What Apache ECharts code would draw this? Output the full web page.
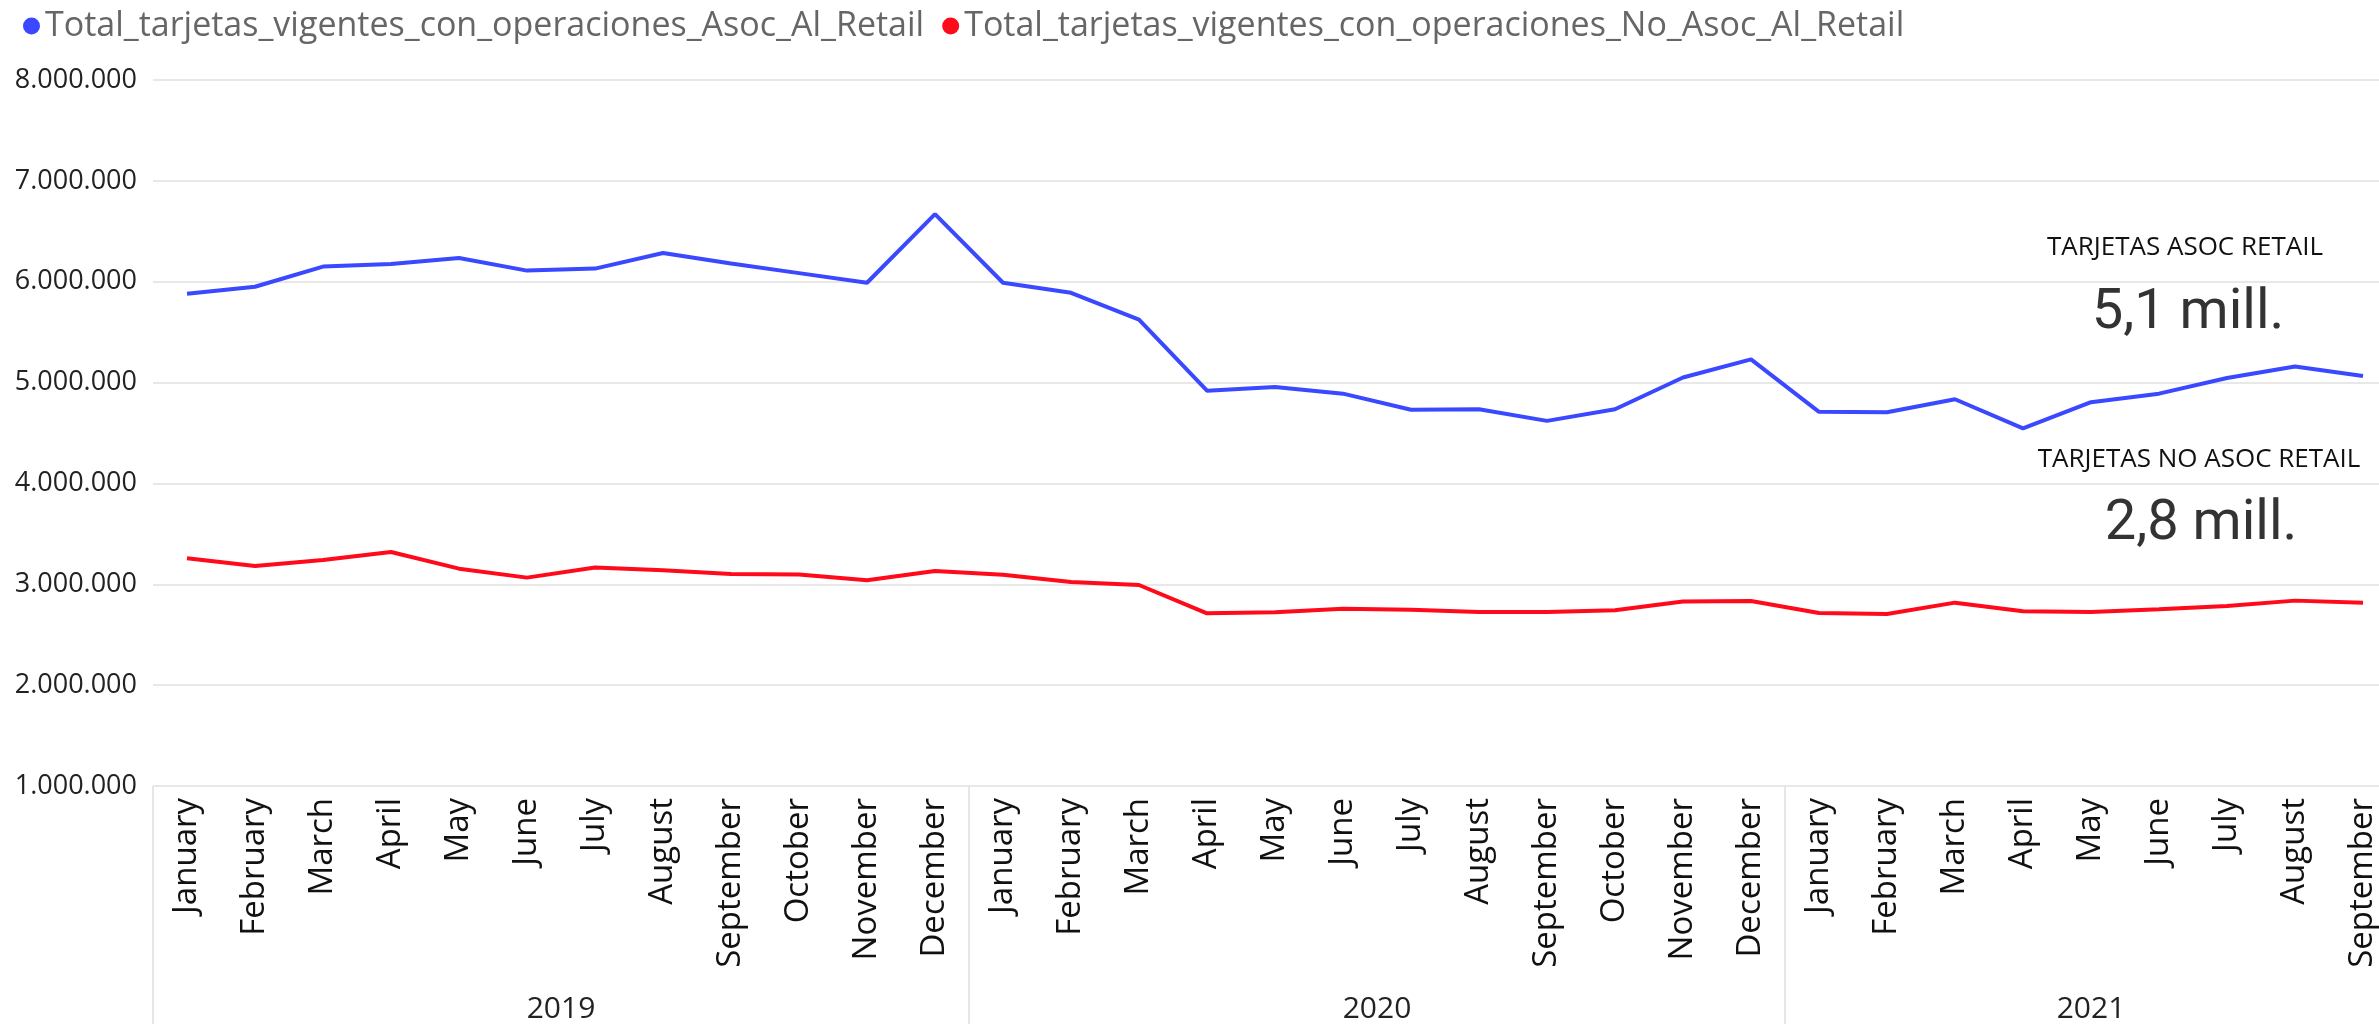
<!DOCTYPE html>
<html>
<head>
<meta charset="utf-8">
<title>Tarjetas vigentes con operaciones</title>
<script src="https://cdn.jsdelivr.net/npm/echarts@6/dist/echarts.min.js"></script>
<style>
  html, body { margin: 0; padding: 0; background: #fff; }
  #chart { width: 2379px; height: 1024px; }
</style>
</head>
<body>
<div id="chart"></div>
<script>
// meses (eje X) y años
const months = [
  "January", "February", "March", "April", "May", "June", "July", "August", "September", "October", "November", "December",
  "January", "February", "March", "April", "May", "June", "July", "August", "September", "October", "November", "December",
  "January", "February", "March", "April", "May", "June", "July", "August", "September"
];
const years = ["2019", "2020", "2021"];
const yearStarts = [0, 12, 24];
const yearCenters = [6, 18, 28.5];

// series
const asocRetail = [
  5880000, 5950000, 6150000, 6175000, 6235000, 6110000, 6130000, 6285000, 6180000, 6085000, 5990000, 6670000,
  5990000, 5890000, 5625000, 4920000, 4955000, 4890000, 4730000, 4735000, 4620000, 4735000, 5050000, 5230000,
  4710000, 4705000, 4835000, 4545000, 4805000, 4890000, 5045000, 5160000, 5065000
];
const noAsocRetail = [
  3258000, 3182000, 3240000, 3320000, 3155000, 3066000, 3166000, 3140000, 3103000, 3096000, 3040000, 3132000,
  3095000, 3023000, 2993000, 2712000, 2722000, 2758000, 2748000, 2725000, 2725000, 2742000, 2830000, 2834000,
  2715000, 2705000, 2818000, 2732000, 2725000, 2752000, 2785000, 2838000, 2818000
];
const seriesNames = [
  "Total_tarjetas_vigentes_con_operaciones_Asoc_Al_Retail",
  "Total_tarjetas_vigentes_con_operaciones_No_Asoc_Al_Retail"
];

// tarjetas (cards)
const cardTitles = ["TARJETAS ASOC RETAIL", "TARJETAS NO ASOC RETAIL"];
const cardValues = ["5,1 mill.", "2,8 mill."];

const fmt = v => String(v).replace(/\B(?=(\d{3})+(?!\d))/g, ".");

let myChart = echarts.init(document.getElementById("chart"));
let option = {
  animation: false,
  textStyle: { fontFamily: "Open Sans" },
  color: ["#3a48ff", "#ff0a1a"],
  legend: {
    left: 18,
    top: 4,
    icon: "circle",
    itemWidth: 17,
    itemHeight: 17,
    itemGap: 18,
    textStyle: { fontSize: 34, color: "#666666", fontFamily: "Open Sans" },
    data: seriesNames
  },
  grid: {
    left: 153,
    right: -18,
    top: 80,
    bottom: 238,
    containLabel: false,
    outerBoundsMode: "none"
  },
  xAxis: [
    {
      type: "category",
      data: months,
      boundaryGap: true,
      axisLine: { show: false },
      axisTick: { show: false },
      axisLabel: {
        interval: 0,
        rotate: 90,
        margin: 12,
        fontSize: 33,
        color: "#111111",
        fontFamily: "Open Sans"
      }
    },
    {
      type: "value",
      position: "bottom",
      min: 0,
      max: months.length,
      axisLine: { show: false },
      splitLine: { show: false },
      axisTick: {
        show: true,
        customValues: yearStarts,
        length: 240,
        lineStyle: { color: "#e6e6e6", width: 2 }
      },
      axisLabel: {
        customValues: yearCenters,
        formatter: v => years[yearCenters.indexOf(v)] || "",
        margin: 208,
        fontSize: 30,
        color: "#222222",
        fontFamily: "Open Sans"
      }
    }
  ],
  yAxis: {
    type: "value",
    min: 1000000,
    max: 8000000,
    interval: 1000000,
    axisLine: { show: false },
    axisTick: { show: false },
    axisLabel: {
      formatter: fmt,
      margin: 16,
      fontSize: 27,
      color: "#222222",
      fontFamily: "Open Sans"
    },
    splitLine: { lineStyle: { color: "#e8e8e8", width: 2 } }
  },
  series: [
    {
      name: seriesNames[0],
      type: "line",
      data: asocRetail,
      symbol: "none",
      lineStyle: { width: 4 }
    },
    {
      name: seriesNames[1],
      type: "line",
      data: noAsocRetail,
      symbol: "none",
      lineStyle: { width: 4 }
    }
  ],
  graphic: [
    {
      type: "text", x: 2185, y: 248,
      style: { text: cardTitles[0], fontSize: 26, fill: "#111111", fontFamily: "Open Sans", textAlign: "center", textVerticalAlign: "middle" }
    },
    {
      type: "text", x: 2188, y: 314,
      style: { text: cardValues[0], fontSize: 56, fill: "#333333", fontFamily: "Roboto", textAlign: "center", textVerticalAlign: "middle" }
    },
    {
      type: "text", x: 2199, y: 460,
      style: { text: cardTitles[1], fontSize: 26, fill: "#111111", fontFamily: "Open Sans", textAlign: "center", textVerticalAlign: "middle" }
    },
    {
      type: "text", x: 2201, y: 525,
      style: { text: cardValues[1], fontSize: 56, fill: "#333333", fontFamily: "Roboto", textAlign: "center", textVerticalAlign: "middle" }
    }
  ]
};
myChart.setOption(option);
</script>
</body>
</html>
